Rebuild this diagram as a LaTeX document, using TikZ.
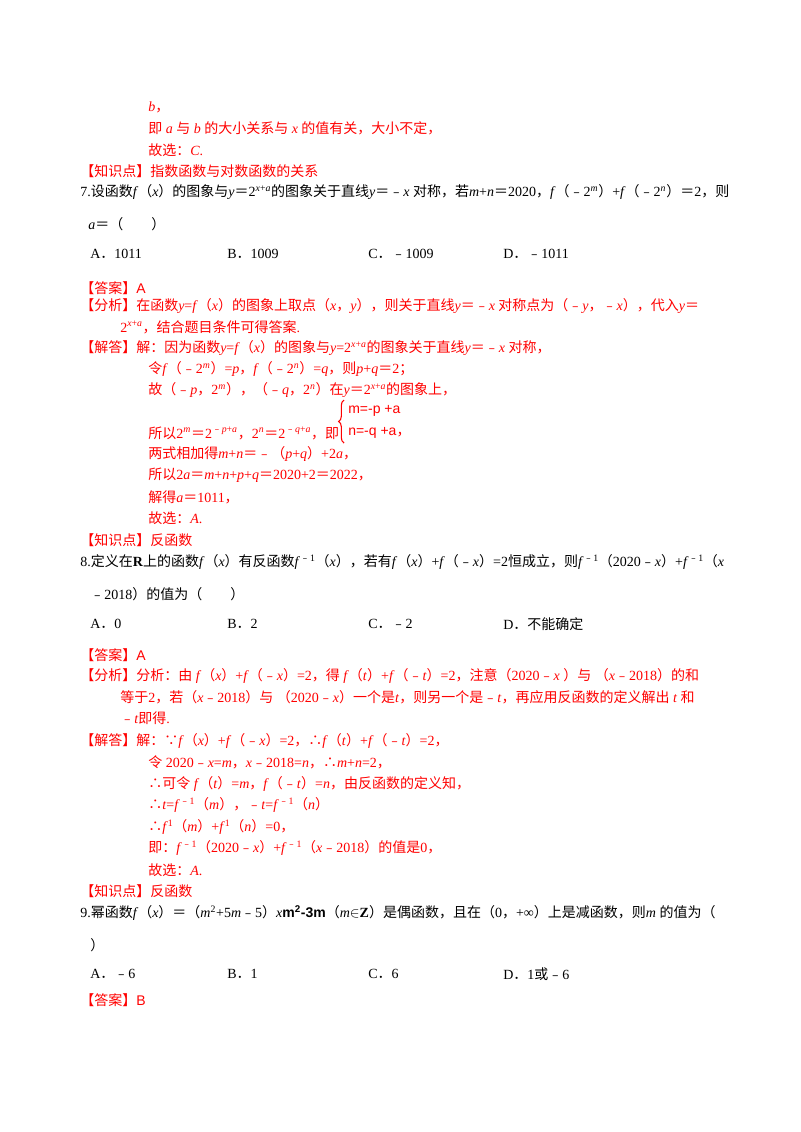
\documentclass[tikz,border=0pt]{standalone}
\usepackage{fontspec}
\usetikzlibrary{decorations.pathreplacing}
\setmainfont{Liberation Serif}
\newfontfamily\cjk{Noto Sans CJK SC}
\newfontfamily\sfx{Liberation Sans}
\newXeTeXintercharclass\cjkclass
\makeatletter
\count255="4E00 \loop\XeTeXcharclass\count255=\cjkclass\advance\count255 by1 \ifnum\count255<"A000 \repeat
\count255="3000 \loop\XeTeXcharclass\count255=\cjkclass\advance\count255 by1 \ifnum\count255<"3040 \repeat
\count255="FF00 \loop\XeTeXcharclass\count255=\cjkclass\advance\count255 by1 \ifnum\count255<"FFF0 \repeat
\count255="FE30 \loop\XeTeXcharclass\count255=\cjkclass\advance\count255 by1 \ifnum\count255<"FE70 \repeat
\XeTeXcharclass"2234=\cjkclass \XeTeXcharclass"2235=\cjkclass
\makeatother
\XeTeXinterchartoks 0 \cjkclass={\begingroup\cjk}
\XeTeXinterchartoks 4095 \cjkclass={\begingroup\cjk}
\XeTeXinterchartoks \cjkclass 0={\endgroup}
\XeTeXinterchartoks \cjkclass 4095={\endgroup}
\newcommand\mi[1]{\textit{#1}}
\newcommand\up[1]{\textsuperscript{#1}}
\begin{document}
\XeTeXinterchartokenstate=1
\begin{tikzpicture}[x=0.75pt,y=-0.75pt,
  every node/.style={anchor=west,inner sep=0pt,font=\fontsize{10.5}{12}\selectfont},
  r/.style={text=red}]
\path[use as bounding box,fill=white] (0,0) rectangle (800,1132);
\node[r] (a1) at (148,107) {\mi{b}，};
\node[r] (a2) at (148,128) {即 \mi{a} 与 \mi{b} 的大小关系与 \mi{x} 的值有关，大小不定，};
\node[r] (a3) at (148,150) {故选：\mi{C}.};
\node[r] (a4) at (80,171) {【知识点】指数函数与对数函数的关系};
\node (q7) at (80,192) {7.设函数\mi{f}（\mi{x}）的图象与\mi{y}＝2\up{\mi{x}+\mi{a}}的图象关于直线\mi{y}＝﹣\mi{x} 对称，若\mi{m}+\mi{n}＝2020，\mi{f}（﹣2\up{\mi{m}}）+\mi{f}（﹣2\up{\mi{n}}）＝2，则};
\node (q7b) at (88,224) {\mi{a}＝（\quad\quad）};
\node (o7a) at (90,254) {A．1011};
\node (o7b) at (227,254) {B．1009};
\node (o7c) at (368,254) {C．﹣1009};
\node (o7d) at (503,254) {D．﹣1011};
\node[r] (b1) at (80,288) {【答案】{\sfx A}};
\node[r] (b2) at (80,306) {【分析】在函数\mi{y}=\mi{f}（\mi{x}）的图象上取点（\mi{x}，\mi{y}），则关于直线\mi{y}＝﹣\mi{x} 对称点为（﹣\mi{y}，﹣\mi{x}），代入\mi{y}＝};
\node[r] (b3) at (120,327) {2\up{\mi{x}+\mi{a}}，结合题目条件可得答案.};
\node[r] (b4) at (80,348) {【解答】解：因为函数\mi{y}=\mi{f}（\mi{x}）的图象与\mi{y}=2\up{\mi{x}+\mi{a}}的图象关于直线\mi{y}＝﹣\mi{x} 对称，};
\node[r] (b5) at (148,369) {令\mi{f}（﹣2\up{\mi{m}}）=\mi{p}，\mi{f}（﹣2\up{\mi{n}}）=\mi{q}，则\mi{p}+\mi{q}＝2；};
\node[r] (b6) at (148,390) {故（﹣\mi{p}，2\up{\mi{m}}），（﹣\mi{q}，2\up{\mi{n}}）在\mi{y}＝2\up{\mi{x}+\mi{a}}的图象上，};
\node[r] (b7) at (148,433) {所以2\up{\mi{m}}＝2\up{﹣\mi{p}+\mi{a}}，2\up{\mi{n}}＝2\up{﹣\mi{q}+\mi{a}}，即};
\coordinate (bt) at (344,400);
\coordinate (bb) at (344,443);
\draw[red,thick,decorate,decoration={brace,amplitude=4pt}] (bb) -- (bt);
\node[r] (s1) at (348,411) {\sfx m=-p +a};
\node[r] (s2) at (348,433) {\sfx n=-q +a\rmfamily，};
\node[r] (b8) at (148,454) {两式相加得\mi{m}+\mi{n}＝﹣（\mi{p}+\mi{q}）+2\mi{a}，};
\node[r] (b9) at (148,475) {所以2\mi{a}＝\mi{m}+\mi{n}+\mi{p}+\mi{q}＝2020+2＝2022，};
\node[r] (b10) at (148,497) {解得\mi{a}＝1011，};
\node[r] (b11) at (148,518) {故选：\mi{A}.};
\node[r] (b12) at (80,540) {【知识点】反函数};
\node (q8) at (80,562) {8.定义在\textbf{R}上的函数\mi{f}（\mi{x}）有反函数\mi{f}\up{﹣1}（\mi{x}），若有\mi{f}（\mi{x}）+\mi{f}（﹣\mi{x}）=2恒成立，则\mi{f}\up{﹣1}（2020﹣\mi{x}）+\mi{f}\up{﹣1}（\mi{x}};
\node (q8b) at (90,594) {﹣2018）的值为（\quad\quad）};
\node (o8a) at (90,624) {A．0};
\node (o8b) at (227,624) {B．2};
\node (o8c) at (368,624) {C．﹣2};
\node (o8d) at (503,624) {D．不能确定};
\node[r] (c1) at (80,655) {【答案】{\sfx A}};
\node[r] (c2) at (80,676) {【分析】分析：由 \mi{f}（\mi{x}）+\mi{f}（﹣\mi{x}）=2，得 \mi{f}（\mi{t}）+\mi{f}（﹣\mi{t}）=2，注意（2020﹣\mi{x} ）与 （\mi{x}﹣2018）的和};
\node[r] (c3) at (120,697) {等于2，若（\mi{x}﹣2018）与 （2020﹣\mi{x}）一个是\mi{t}，则另一个是﹣\mi{t}，再应用反函数的定义解出 \mi{t} 和};
\node[r] (c4) at (120,718) {﹣\mi{t}即得.};
\node[r] (c5) at (80,741) {【解答】解：∵\mi{f}（\mi{x}）+\mi{f}（﹣\mi{x}）=2，∴\mi{f}（\mi{t}）+\mi{f}（﹣\mi{t}）=2，};
\node[r] (c6) at (148,762) {令 2020﹣\mi{x}=\mi{m}，\mi{x}﹣2018=\mi{n}，∴\mi{m}+\mi{n}=2，};
\node[r] (c7) at (148,784) {∴可令 \mi{f}（\mi{t}）=\mi{m}，\mi{f}（﹣\mi{t}）=\mi{n}，由反函数的定义知，};
\node[r] (c8) at (148,805) {∴\mi{t}=\mi{f}\up{﹣1}（\mi{m}），﹣\mi{t}=\mi{f}\up{﹣1}（\mi{n}）};
\node[r] (c9) at (148,827) {∴\mi{f}\up{1}（\mi{m}）+\mi{f}\up{1}（\mi{n}）=0，};
\node[r] (c10) at (148,848) {即：\mi{f}\up{﹣1}（2020﹣\mi{x}）+\mi{f}\up{﹣1}（\mi{x}﹣2018）的值是0，};
\node[r] (c11) at (148,870) {故选：\mi{A}.};
\node[r] (c12) at (80,891) {【知识点】反函数};
\node (q9) at (80,913) {9.幂函数\mi{f}（\mi{x}）＝（\mi{m}\up{2}+5\mi{m}﹣5）\mi{x}{\sfx\bfseries m\up{2}-3m}（\mi{m}$\in$\textbf{Z}）是偶函数，且在（0，+∞）上是减函数，则\mi{m} 的值为（};
\node (q9b) at (90,945) {）};
\node (o9a) at (90,974) {A．﹣6};
\node (o9b) at (227,974) {B．1};
\node (o9c) at (368,974) {C．6};
\node (o9d) at (503,974) {D．1或﹣6};
\node[r] (d1) at (80,1000) {【答案】{\sfx B}};
\end{tikzpicture}
\end{document}
